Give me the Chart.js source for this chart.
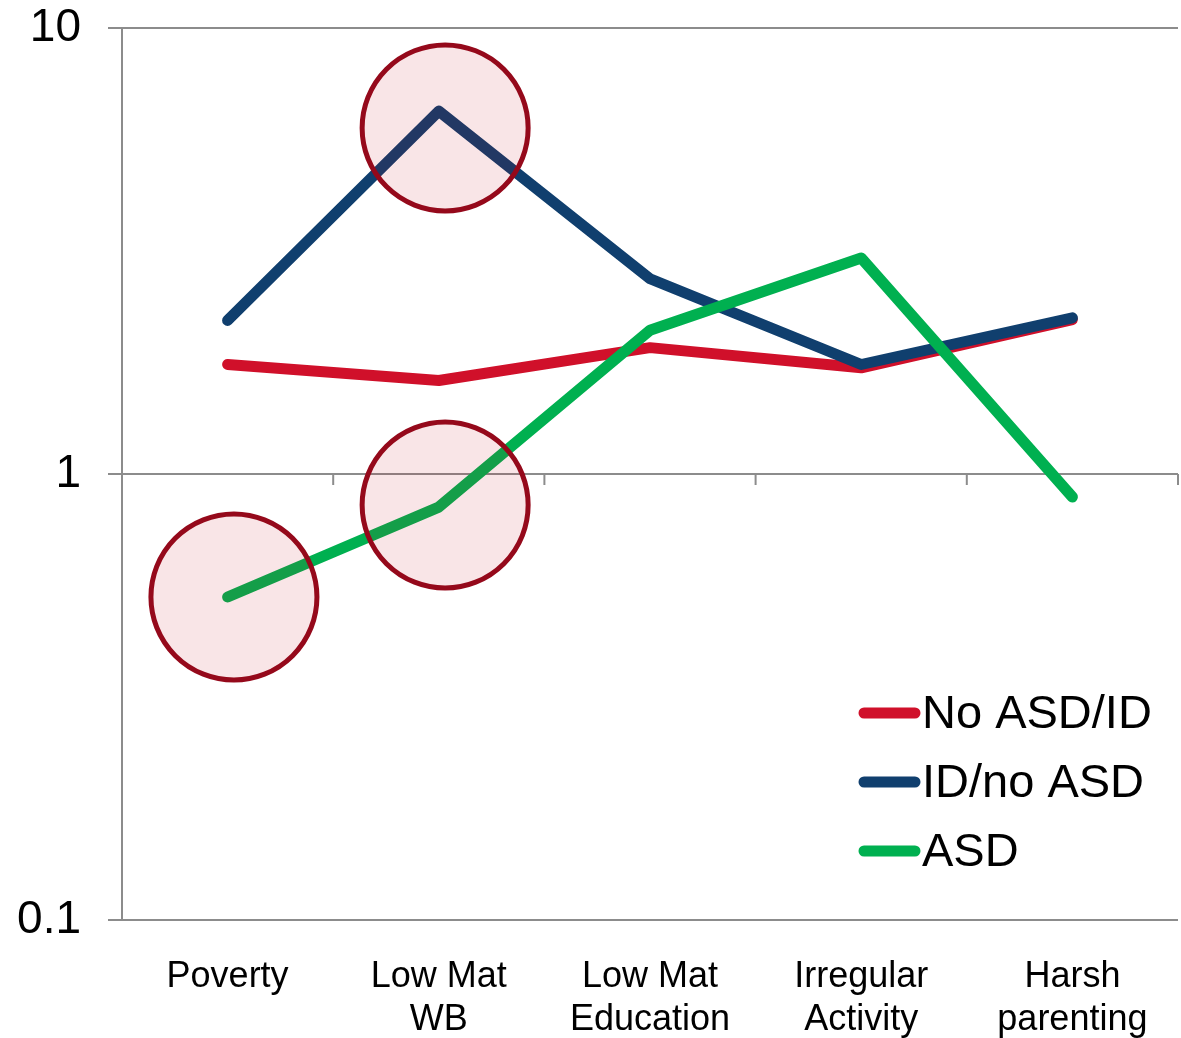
<!DOCTYPE html>
<html>
<head>
<meta charset="utf-8">
<title>Risk factors by group</title>
<script src="https://cdn.jsdelivr.net/npm/chart.js@4/dist/chart.umd.min.js"></script>
<style>
    html, body { margin: 0; padding: 0; background: #ffffff; }
    #wrap { width: 1181px; height: 1038px; position: relative; }
</style>
</head>
<body>
<div id="wrap"><canvas id="riskChart"></canvas></div>
<script>
// ==================== dati ====================
const categorie = ['Poverty', ['Low Mat', 'WB'], ['Low Mat', 'Education'], ['Irregular', 'Activity'], ['Harsh', 'parenting']];

const noAsdId = [1.76, 1.62, 1.92, 1.73, 2.22];
const idNoAsd = [2.21, 6.51, 2.74, 1.76, 2.24];
const asd     = [0.53, 0.843, 2.10, 3.05, 0.888];

// cerchi di evidenza (x = indice categoria, y = valore)
const cerchiX = [0.03, 1.03, 1.03, 4.97];
const cerchiY = [0.53, 5.97, 0.852, 0.848];

const yTicks = [0.1, 1, 10];

const FONT = "'Liberation Sans', Arial, sans-serif";
const GRIGIO = '#8c8c8c';

// tacche dell'asse categorie sulla linea y = 1
const tacchePlugin = {
    id: 'tacche',
    afterDatasetsDraw(chart) {
        const { ctx, scales } = chart;
        const x = scales.x;
        const yPix = scales.y.getPixelForValue(1);
        ctx.save();
        ctx.strokeStyle = GRIGIO;
        ctx.lineWidth = 2;
        for (let i = 0; i <= categorie.length; i++) {
            const px = x.getPixelForValue(i - 0.5);
            ctx.beginPath();
            ctx.moveTo(px, yPix);
            ctx.lineTo(px, yPix + 11);
            ctx.stroke();
        }
        ctx.restore();
    }
};

// legenda dentro l'area del grafico
const legendaPlugin = {
    id: 'legenda',
    afterDraw(chart) {
        const { ctx } = chart;
        const voci = chart.data.datasets.filter(d => d.inLegenda);
        const x0 = 864, y0 = 713, passo = 69;
        ctx.save();
        ctx.font = '47px ' + FONT;
        ctx.textBaseline = 'middle';
        ctx.textAlign = 'left';
        voci.forEach((d, i) => {
            const y = y0 + i * passo;
            ctx.strokeStyle = d.borderColor;
            ctx.lineWidth = 11;
            ctx.lineCap = 'round';
            ctx.beginPath();
            ctx.moveTo(x0, y);
            ctx.lineTo(x0 + 51, y);
            ctx.stroke();
            ctx.fillStyle = '#000000';
            ctx.fillText(d.label, x0 + 58, y + 2);
        });
        ctx.restore();
    }
};

function serie(label, dati, colore, ordine) {
    return {
        label: label,
        data: dati,
        borderColor: colore,
        backgroundColor: colore,
        borderWidth: 11,
        borderCapStyle: 'round',
        borderJoinStyle: 'round',
        pointRadius: 0,
        tension: 0,
        order: ordine,
        inLegenda: true
    };
}

const ctx = document.getElementById('riskChart').getContext('2d');

new Chart(ctx, {
    type: 'line',
    data: {
        labels: categorie,
        datasets: [
            serie('No ASD/ID', noAsdId, '#D0102A', 3),
            serie('ID/no ASD', idNoAsd, '#103F6E', 2),
            serie('ASD', asd, '#00B050', 1),
            {
                type: 'scatter',
                label: 'evidenza',
                xAxisID: 'xc',
                data: cerchiX.map((v, i) => ({ x: v, y: cerchiY[i] })),
                pointRadius: 83,
                pointHoverRadius: 83,
                pointBackgroundColor: 'rgba(192, 0, 20, 0.1)',
                pointBorderColor: '#95091B',
                pointBorderWidth: 5,
                showLine: false,
                order: 0
            }
        ]
    },
    options: {
        responsive: true,
        maintainAspectRatio: false,
        animation: false,
        events: [],
        layout: {
            autoPadding: false,
            padding: { left: 14, right: 3, top: 28, bottom: 0 }
        },
        plugins: {
            legend: { display: false },
            tooltip: { enabled: false }
        },
        scales: {
            x: {
                type: 'category',
                offset: true,
                grid: { display: false, drawTicks: false },
                border: { display: false },
                ticks: {
                    color: '#000000',
                    padding: 35,
                    maxRotation: 0,
                    autoSkip: false,
                    font: { family: FONT, size: 36, lineHeight: 1.2 }
                },
                afterFit(scale) {
                    scale.height = 118;
                    scale.paddingLeft = 0;
                    scale.paddingRight = 0;
                }
            },
            xc: {
                type: 'linear',
                display: false,
                min: -0.5,
                max: 4.5
            },
            y: {
                type: 'logarithmic',
                min: 0.1,
                max: 10,
                afterBuildTicks(scale) {
                    scale.ticks = yTicks.map(v => ({ value: v }));
                },
                afterFit(scale) {
                    scale.width = 108;
                    scale.paddingTop = 0;
                    scale.paddingBottom = 0;
                },
                grid: {
                    color: GRIGIO,
                    lineWidth: 2,
                    drawTicks: true,
                    tickLength: 14
                },
                border: { display: true, color: GRIGIO, width: 2 },
                ticks: {
                    color: '#000000',
                    padding: 27,
                    font: { family: FONT, size: 46 },
                    callback: function(value) {
                        return String(value);
                    }
                }
            }
        }
    },
    plugins: [tacchePlugin, legendaPlugin]
});
</script>
</body>
</html>
